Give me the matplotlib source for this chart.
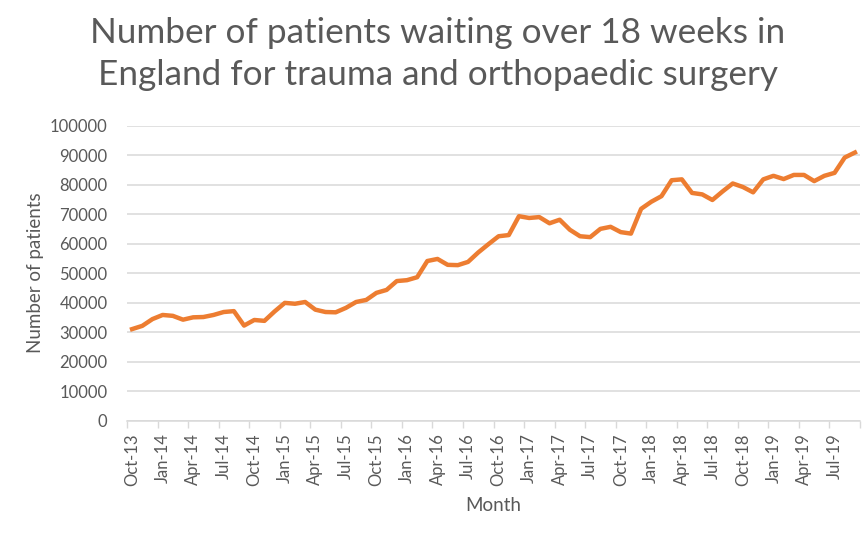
import matplotlib
matplotlib.use("Agg")
import matplotlib.pyplot as plt
import numpy as np
import pandas as pd

# Monthly counts, Oct-13 .. Sep-19
months = pd.date_range("2013-10-01", periods=72, freq="MS").strftime("%b-%y").tolist()
patients = [
    31000, 32100, 34400, 35800, 35500, 34200, 35000, 35100, 35800, 36800,
    37100, 32200, 34100, 33800, 37000, 39900, 39600, 40200, 37600, 36800,
    36700, 38200, 40200, 40900, 43300, 44300, 47300, 47600, 48600, 54100,
    54800, 52800, 52700, 53800, 57000, 59800, 62500, 62900, 69300, 68700,
    69000, 66900, 68100, 64700, 62500, 62200, 65000, 65700, 63900, 63400,
    71800, 74200, 76100, 81500, 81800, 77200, 76700, 74800, 77700, 80400,
    79200, 77400, 81800, 83000, 81900, 83300, 83300, 81200, 83000, 84000,
    89200, 90900,
]
yticks = np.arange(0, 100001, 10000)

title = ("Number of patients waiting over 18 weeks in\n"
         "England for trauma and orthopaedic surgery")

txt = "#595959"
grid = "#D9D9D9"
plt.rcParams['font.family'] = ['Lato', 'DejaVu Sans']

fig = plt.figure(figsize=(8.67, 5.35), dpi=100)
ax = fig.add_axes([127/867, 1 - 420.5/535, (860 - 127)/867, (420.5 - 125.7)/535])

x = np.arange(len(patients))
ax.plot(x, patients, color="#ED7D31", lw=3.2, solid_joinstyle="round", zorder=3)

ax.set_xlim(-0.5, len(patients) - 0.5)
ax.set_ylim(0, 100000)
ax.set_yticks(yticks)
ax.set_yticklabels([str(v) for v in yticks])
ax.yaxis.grid(True, color=grid, lw=1.1)
ax.set_axisbelow(True)

# labels every 3 months, tick marks between categories
ax.set_xticks(x[::3])
ax.set_xticklabels(months[::3], rotation=90)
ax.set_xticks(np.arange(-0.5, len(patients), 3), minor=True)
ax.tick_params(axis="x", which="major", length=0, pad=9, labelsize=12, labelcolor=txt)
ax.tick_params(axis="x", which="minor", length=5, width=1, color=grid, direction="out")
ax.tick_params(axis="y", length=0, pad=14, labelsize=12, labelcolor=txt)

for s in ["top", "right", "left"]:
    ax.spines[s].set_visible(False)
ax.spines["bottom"].set_color(grid)
ax.spines["bottom"].set_linewidth(1.1)

ax.set_xlabel("Month", fontsize=13.5, color=txt, labelpad=8)
ax.set_ylabel("Number of patients", fontsize=13.5, color=txt, labelpad=4)

fig.text(438/867, 1 - 54/535, title, ha="center", va="center",
         fontsize=25.3, color=txt, linespacing=1.42)

fig.savefig("out.png", dpi=100)
